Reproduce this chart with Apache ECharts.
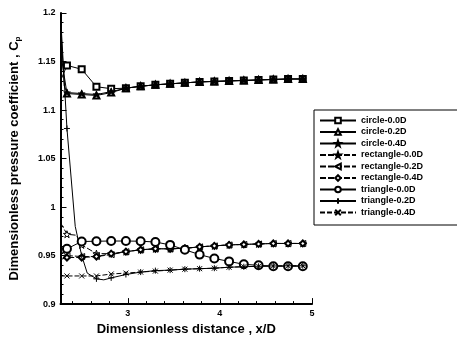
<!DOCTYPE html>
<html><head><meta charset="utf-8">
<script src="https://cdn.jsdelivr.net/npm/echarts@6/dist/echarts.min.js"></script>
<style>html,body{margin:0;padding:0;background:#fff}#c{width:457px;height:341px}</style>
</head><body><div id="c"></div>
<script>
// ---- data ----
const seriesNames = ['circle-0.0D','circle-0.2D','circle-0.4D','rectangle-0.0D','rectangle-0.2D','rectangle-0.4D','triangle-0.0D','triangle-0.2D','triangle-0.4D'];
const markerXs = [2.34,2.50,2.66,2.82,2.98,3.14,3.30,3.46,3.62,3.78,3.94,4.10,4.26,4.42,4.58,4.74,4.90];
const xMajorTicks = [3,4,5];
const xMinorTicks = [2.4,2.6,2.8,3.2,3.4,3.6,3.8,4.2,4.4,4.6,4.8];

const c00X = [2.27,2.34,2.50,2.66,2.82,2.98,3.14,3.30,3.46,3.62,3.78,3.94,4.10,4.26,4.42,4.58,4.74,4.90];
const c00Y = [1.130,1.146,1.142,1.124,1.122,1.1225,1.1245,1.126,1.127,1.128,1.129,1.1295,1.130,1.1305,1.131,1.1315,1.132,1.132];
const c02X = [2.27,2.34,2.50,2.66,2.82,2.98,3.14,3.30,3.46,3.62,3.78,3.94,4.10,4.26,4.42,4.58,4.74,4.90];
const c02Y = [1.160,1.117,1.116,1.115,1.118,1.1225,1.1245,1.126,1.127,1.128,1.129,1.1295,1.130,1.1305,1.131,1.1315,1.132,1.132];
const c04X = [2.27,2.31,2.34,2.50,2.66,2.82,2.98,3.14,3.30,3.46,3.62,3.78,3.94,4.10,4.26,4.42,4.58,4.74,4.90];
const c04Y = [1.190,1.125,1.118,1.117,1.116,1.119,1.1225,1.1245,1.126,1.127,1.128,1.129,1.1295,1.130,1.1305,1.131,1.1315,1.132,1.132];

const r00X = [2.27,2.34,2.44,2.50,2.66,2.82,2.98,3.14,3.30,3.46,3.62,3.78,3.94,4.10,4.26,4.42,4.58,4.74,4.90];
const r00Y = [0.984,0.972,0.971,0.961,0.952,0.952,0.954,0.956,0.957,0.957,0.9575,0.959,0.960,0.961,0.9615,0.962,0.9625,0.9625,0.9625];
const r02X = [2.27,2.34,2.50,2.66,2.82,2.98,3.14,3.30,3.46,3.62,3.78,3.94,4.10,4.26,4.42,4.58,4.74,4.90];
const r02Y = [0.955,0.950,0.949,0.949,0.951,0.954,0.956,0.957,0.957,0.9575,0.959,0.960,0.961,0.9615,0.962,0.9625,0.9625,0.9625];
const r04X = [2.27,2.34,2.50,2.66,2.82,2.98,3.14,3.30,3.46,3.62,3.78,3.94,4.10,4.26,4.42,4.58,4.74,4.90];
const r04Y = [0.946,0.948,0.948,0.949,0.952,0.954,0.956,0.957,0.957,0.9575,0.959,0.960,0.961,0.9615,0.962,0.9625,0.9625,0.9625];

const t00X = [2.27,2.34,2.50,2.66,2.82,2.98,3.14,3.30,3.46,3.62,3.78,3.94,4.10,4.26,4.42,4.58,4.74,4.90];
const t00Y = [0.950,0.957,0.9645,0.9648,0.965,0.965,0.9648,0.964,0.961,0.956,0.951,0.947,0.944,0.941,0.940,0.939,0.939,0.939];
const t02X = [2.27,2.34,2.43,2.50,2.56,2.66,2.74,2.82,2.98,3.14,3.30,3.46,3.62,3.78,3.94,4.10,4.26,4.42,4.58,4.74,4.90];
const t02Y = [1.198,1.081,0.980,0.950,0.932,0.926,0.925,0.927,0.9305,0.933,0.9345,0.935,0.936,0.9365,0.937,0.938,0.9385,0.939,0.9393,0.9395,0.9395];
const t04X = [2.27,2.34,2.50,2.66,2.82,2.98,3.14,3.30,3.46,3.62,3.78,3.94,4.10,4.26,4.42,4.58,4.74,4.90];
const t04Y = [0.929,0.929,0.929,0.929,0.931,0.932,0.933,0.934,0.935,0.936,0.9365,0.937,0.938,0.9385,0.939,0.9393,0.9395,0.9395];

// ---- styles ----
const STAR = 'path://M0,-10L2.35,-3.24L9.51,-3.09L3.8,1.24L5.88,8.09L0,4L-5.88,8.09L-3.8,1.24L-9.51,-3.09L-2.35,-3.24Z';
const LTRI = 'path://M-5,0L5,-5L5,5Z';
const PLUS = 'path://M0,-5L0,5M-5,0L5,0';
const CROSS = 'path://M-5,-5L5,5M-5,5L5,-5';
const styles = [
  {x:c00X,y:c00Y,symbol:'emptyRect',size:6,item:{color:'#000'},dash:'solid'},
  {x:c02X,y:c02Y,symbol:'emptyTriangle',size:6,item:{color:'#000'},dash:'solid'},
  {x:c04X,y:c04Y,symbol:STAR,size:7,item:{color:'#000',borderColor:'#000',borderWidth:0.5},dash:'solid'},
  {x:r00X,y:r00Y,symbol:STAR,size:7,item:{color:'#fff',borderColor:'#000',borderWidth:1},dash:[6,2]},
  {x:r02X,y:r02Y,symbol:LTRI,size:6,item:{color:'#fff',borderColor:'#000',borderWidth:1},dash:[6,2]},
  {x:r04X,y:r04Y,symbol:'emptyDiamond',size:6,item:{color:'#000'},dash:[6,2]},
  {x:t00X,y:t00Y,symbol:'emptyCircle',size:8,item:{color:'#000'},dash:'solid'},
  {x:t02X,y:t02Y,symbol:PLUS,size:6,item:{color:'#000',borderColor:'#000',borderWidth:1},dash:'solid'},
  {x:t04X,y:t04Y,symbol:CROSS,size:5,item:{color:'#000',borderColor:'#000',borderWidth:1},dash:[5,2]}
];

function build(s){
  return s.x.map((x,i)=> markerXs.includes(x) ? [x,s.y[i]] : {value:[x,s.y[i]],symbol:'none'});
}

const series = styles.map((s,i)=>({
  name: seriesNames[i], type:'line', xAxisIndex:0, yAxisIndex:0,
  data: build(s), symbol: s.symbol, symbolSize: s.size, showAllSymbol:true,
  itemStyle: s.item, lineStyle:{color:'#000',width:1,type:s.dash},
  smooth:false, animation:false, z: 3
}));

const chart = echarts.init(document.getElementById('c'), null, {renderer:'canvas'});
const FONT = 'Liberation Sans, Arial, sans-serif';
chart.setOption({
  animation:false,
  backgroundColor:'#fff',
  grid:{left:53,right:145,top:13,bottom:32},
  xAxis:[{
    type:'value', min:2.27, max:5,
    name:'Dimensionless distance , x/D', nameLocation:'middle', nameGap:17,
    nameTextStyle:{fontFamily:FONT,fontWeight:'bold',fontSize:13,color:'#000'},
    axisLine:{show:true,lineStyle:{color:'#000',width:2}},
    axisTick:{show:true,inside:true,length:6,customValues:xMajorTicks,lineStyle:{color:'#000',width:1}},
    axisLabel:{customValues:xMajorTicks,fontFamily:FONT,fontWeight:'bold',fontSize:9,color:'#000',margin:5},
    splitLine:{show:false}
  },{
    type:'value', min:2.27, max:5, position:'bottom',
    axisLine:{show:false},
    axisTick:{show:true,inside:true,length:3,customValues:xMinorTicks,lineStyle:{color:'#000',width:1}},
    axisLabel:{show:false}, splitLine:{show:false}
  }],
  yAxis:{
    type:'value', min:0.9, max:1.2, interval:0.05,
    name:'Dimensionless pressure coefficient , C{sub|p}', nameLocation:'middle', nameGap:39, nameRotate:90,
    nameTextStyle:{fontFamily:FONT,fontWeight:'bold',fontSize:13,color:'#000',
      rich:{sub:{fontFamily:FONT,fontWeight:'bold',fontSize:8,color:'#000',verticalAlign:'bottom',padding:[6,0,0,0]}}},
    axisLine:{show:true,lineStyle:{color:'#000',width:2}},
    axisTick:{show:true,inside:true,length:6,lineStyle:{color:'#000',width:1}},
    minorTick:{show:true,splitNumber:5,length:3,lineStyle:{color:'#000',width:1}},
    axisLabel:{fontFamily:FONT,fontWeight:'bold',fontSize:9,color:'#000',margin:5},
    splitLine:{show:false}
  },
  legend:{
    orient:'vertical', left:314, top:110,
    itemWidth:36, itemHeight:7, itemGap:2.5,
    padding:[6,40,8,5],
    backgroundColor:'#fff', borderColor:'#000', borderWidth:1,
    textStyle:{fontFamily:FONT,fontWeight:'bold',fontSize:9,color:'#000'},
    data: seriesNames
  },
  series: series
});
</script></body></html>
